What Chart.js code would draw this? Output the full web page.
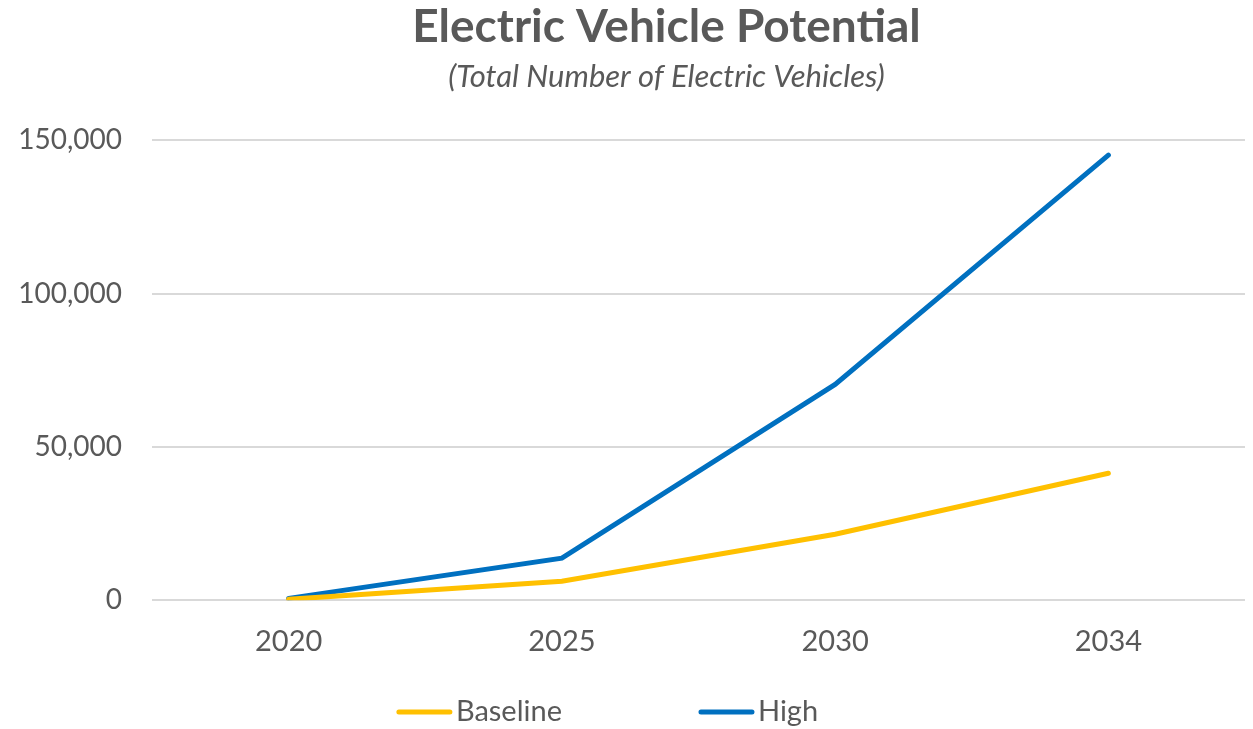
<!DOCTYPE html>
<html>
<head>
<meta charset="utf-8">
<script src="https://cdn.jsdelivr.net/npm/chart.js@4/dist/chart.umd.min.js"></script>
<style>
html,body{margin:0;padding:0;background:#fff;}
#wrap{width:1253px;height:729px;position:relative;}
</style>
</head>
<body>
<div id="wrap"><canvas id="c" width="1253" height="729"></canvas></div>
<script>
const categories = ["2020", "2025", "2030", "2034"];
const baselineValues = [300, 6200, 21500, 41400];
const highValues = [600, 13700, 70400, 145200];
const yTicks = [0, 50000, 100000, 150000];

const FONT = "Lato, 'Open Sans', sans-serif";
const TXT = "#595959";

// shift the title/subtitle block so it is centred like the original
const titleShift = {
  id: "titleShift",
  afterLayout(chart) {
    chart.boxes.forEach(b => {
      if (b.options && b.options.text !== undefined && b.position === "top") {
        b.left += 72;
      }
    });
  }
};

const lineLegend = {
  id: "lineLegend",
  afterDraw(chart) {
    const ctx = chart.ctx;
    const size = 29, lineLen = 55, gap = 4, itemGap = 137;
    ctx.save();
    ctx.font = size + "px " + FONT;
    const items = chart.data.datasets.map(d => ({ d, w: lineLen + gap + ctx.measureText(d.label).width }));
    const total = items.reduce((a, it) => a + it.w, 0) + itemGap * (items.length - 1);
    let x = chart.width / 2 - 19 - total / 2;
    const y = 712;
    items.forEach(it => {
      ctx.strokeStyle = it.d.borderColor;
      ctx.lineWidth = 5;
      ctx.lineCap = "round";
      ctx.beginPath();
      ctx.moveTo(x + 2, y);
      ctx.lineTo(x + lineLen - 2, y);
      ctx.stroke();
      ctx.fillStyle = TXT;
      ctx.textBaseline = "middle";
      ctx.textAlign = "left";
      ctx.fillText(it.d.label, x + lineLen + gap, y);
      x += it.w + itemGap;
    });
    ctx.restore();
  }
};

new Chart(document.getElementById("c"), {
  type: "line",
  data: {
    labels: categories,
    datasets: [
      { label: "Baseline", data: baselineValues, borderColor: "#FFC000", backgroundColor: "#FFC000", borderWidth: 5, pointRadius: 0, tension: 0, borderCapStyle: "round" },
      { label: "High", data: highValues, borderColor: "#0070C0", backgroundColor: "#0070C0", borderWidth: 5, pointRadius: 0, tension: 0, borderCapStyle: "round" }
    ]
  },
  plugins: [titleShift, lineLegend],
  options: {
    responsive: false,
    animation: false,
    layout: { padding: { left: 16, right: 8, top: 0, bottom: 54 } },
    plugins: {
      title: { display: true, text: "Electric Vehicle Potential", color: TXT, font: { family: FONT, size: 46, weight: "bold" }, padding: { top: 0, bottom: 0 } },
      subtitle: { display: true, text: "(Total Number of Electric Vehicles)", color: TXT, font: { family: FONT, size: 31, style: "italic" }, padding: { top: 3, bottom: 45 } },
      legend: { display: false },
      tooltip: { enabled: false }
    },
    scales: {
      x: {
        offset: true,
        grid: { display: false },
        border: { display: false },
        ticks: { color: TXT, font: { family: FONT, size: 29 }, padding: 16 }
      },
      y: {
        min: 0, max: 150000,
        afterBuildTicks: (s) => { s.ticks = yTicks.map(v => ({ value: v })); },
        afterFit: (s) => { s.width = 136; },
        grid: { color: "#d9d9d9", lineWidth: 2, drawTicks: false },
        border: { display: false },
        ticks: { color: TXT, font: { family: FONT, size: 28 }, padding: 30, callback: (v) => v.toLocaleString("en-US") }
      }
    }
  }
});
</script>
</body>
</html>
